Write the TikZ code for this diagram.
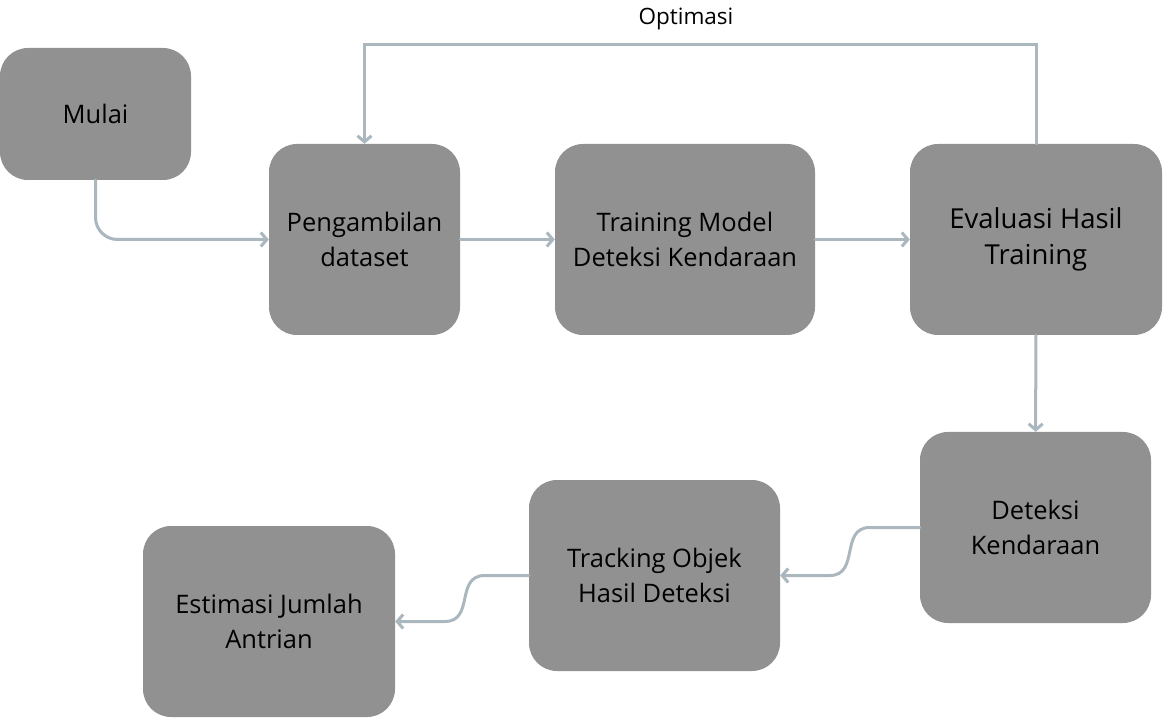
\documentclass[tikz,border=0pt]{standalone}
\usepackage{fontspec}
\setmainfont{Open Sans}
\usepackage{tikz}
\usetikzlibrary{arrows.meta,positioning}
\definecolor{boxgray}{RGB}{145, 145, 145}
\definecolor{linegray}{RGB}{170, 183, 191}
\tikzstyle{proc} = [rectangle, rounded corners=28pt, fill=boxgray, text=black, align=center, font=\fontsize{25.5}{35}\selectfont, minimum height=191pt, inner sep=0pt]
\tikzstyle{flow} = [draw=linegray, line width=3pt, line cap=round, -{Straight Barb[length=6pt,width=14pt,line width=3pt]}]

\begin{document}
\begin{tikzpicture}[x=1pt, y=1pt]
\useasboundingbox (0,0) rectangle (1163,-719);

% process boxes ==========================
\node[proc, minimum width=191pt, minimum height=132pt] (mulai) at (95.5,-114) {Mulai};
\node[proc, minimum width=191pt] (ambil) at (364.5,-239.5) {Pengambilan\\dataset};
\node[proc, minimum width=260pt] (train) at (685,-239.5) {Training Model\\Deteksi Kendaraan};
\node[proc, minimum width=252pt, font=\fontsize{27.5}{36}\selectfont] (eval) at (1036,-239.5) {Evaluasi Hasil\\Training};
\node[proc, minimum width=231pt] (deteksi) at (1035.5,-527.5) {Deteksi\\Kendaraan};
\node[proc, minimum width=251pt] (track) at (654.5,-575.5) {Tracking Objek\\Hasil Deteksi};
\node[proc, minimum width=252pt] (estim) at (269,-621.5) {Estimasi Jumlah\\Antrian};

% label of the loop
\node[font=\fontsize{22.5}{26}\selectfont] (opt) at (686,-19) {Optimasi};

% edges
\path[flow, rounded corners=22pt] (mulai.south) |- (ambil.west);
\path[flow] (ambil) -- (train);
\path[flow] (train) -- (eval);
\path[flow] (eval.north) -- ++(0,99) -| (ambil.north);
\path[flow] (eval) -- (deteksi);
\path[flow] (deteksi.west) -- ++(-50,0) .. controls +(-30,0) and +(30,0) .. ++(-40,-48) -- (track.east);
\path[flow] (track.west) -- ++(-44,0) .. controls +(-30,0) and +(30,0) .. ++(-40,-46) -- (estim.east);

\end{tikzpicture}
\end{document}
